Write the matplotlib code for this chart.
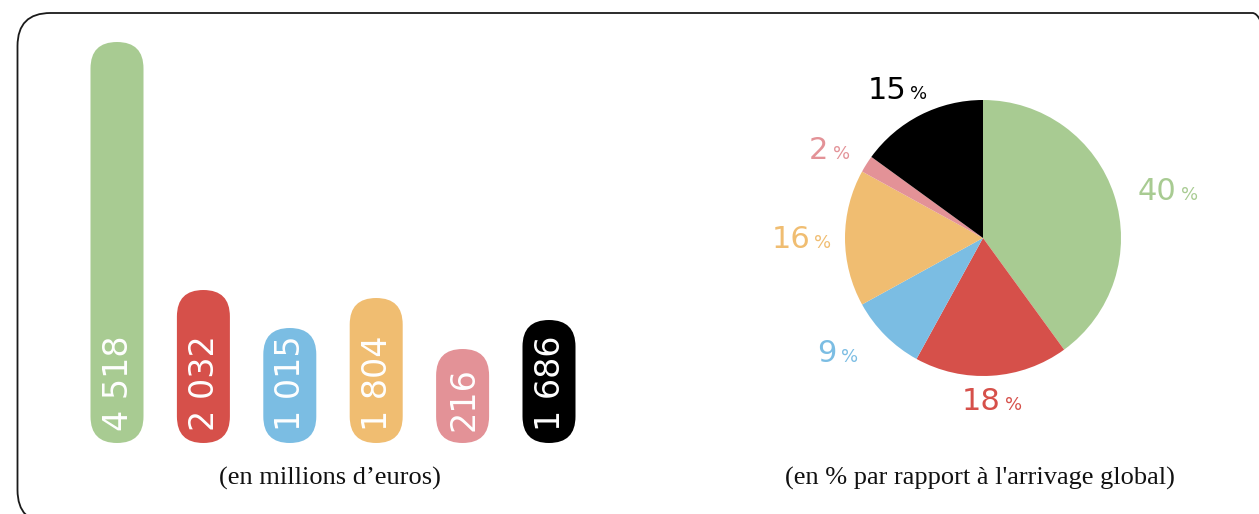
# Arrivages : montants (barres arrondies) et parts en % (camembert)
import matplotlib
matplotlib.use("Agg")
import numpy as np
import matplotlib.pyplot as plt
from matplotlib.patches import FancyBboxPatch

# Données
montants = [4518, 2032, 1015, 1804, 216, 1686]          # en millions d'euros
etiquettes_montants = ["4 518", "2 032", "1 015", "1 804", "216", "1 686"]
# hauteur visuelle des barres (non proportionnelle aux montants sur l'original)
hauteurs_barres = [401, 153, 115, 145, 94, 123]
parts = [40, 18, 9, 16, 2, 15]                           # en %
couleurs = ["#a8cb92", "#d6504a", "#7bbde3", "#f0bd71", "#e39297", "#000000"]

W, H = 1259, 514
fig = plt.figure(figsize=(W / 100, H / 100), dpi=100)

# Cadre arrondi (repère en pixels, origine en bas)
ax_fond = fig.add_axes([0, 0, 1, 1])
ax_fond.set_xlim(0, W)
ax_fond.set_ylim(0, H)
ax_fond.axis("off")
cadre = FancyBboxPatch((17.5, H - 523), 1268, 510, boxstyle="round,pad=0,rounding_size=33",
                       fill=False, edgecolor="#1a1a1a", linewidth=1.3, clip_on=False)
ax_fond.add_patch(cadre)

# Barres arrondies : axes en unités "pixels" pour garder les arrondis circulaires
unite = 86.4
x0, y_bas, y_haut = 117 - unite / 2, 443, 30
ax_b = fig.add_axes([x0 / W, 1 - y_bas / H, 6 * unite / W, (y_bas - y_haut) / H])
ax_b.set_xlim(-unite / 2, 5.5 * unite)
ax_b.set_ylim(0, y_bas - y_haut)
ax_b.axis("off")

largeur = 53
for i, (h, lab, c) in enumerate(zip(hauteurs_barres, etiquettes_montants, couleurs)):
    xc = i * unite
    barre = FancyBboxPatch((xc - largeur / 2, 0), largeur, h,
                           boxstyle="round,pad=0,rounding_size=%.1f" % (largeur / 2),
                           facecolor=c, edgecolor="none")
    ax_b.add_patch(barre)
    ax_b.text(xc + 1, 12, lab, rotation=90, ha="center", va="bottom",
              color="white", fontsize=24, family="DejaVu Sans")

fig.text(330 / W, 1 - 478 / H, "(en millions d’euros)", ha="center", va="center",
         fontsize=19, family="Liberation Serif", color="#111111")

# Camembert
cx, cy, r = 983, 238, 138
cote = 2 * r * 1.6
ax_p = fig.add_axes([(cx - cote / 2) / W, 1 - (cy + cote / 2) / H, cote / W, cote / H])
wedges, _ = ax_p.pie(parts, colors=couleurs, startangle=90, counterclock=False,
                     wedgeprops=dict(linewidth=0))
ax_p.set_xlim(-1.6, 1.6)
ax_p.set_ylim(-1.6, 1.6)
ax_p.axis("off")

# placement des étiquettes : distance au centre et petit décalage angulaire
distances = [1.38, 1.17, 1.34, 1.32, 1.29, 1.25]
decalages = [-3.4, -0.6, -7, 0, 2.4, 3]
px = 1 / r  # un pixel en unités du camembert
for w, p, c, d, da in zip(wedges, parts, couleurs, distances, decalages):
    a = np.deg2rad((w.theta1 + w.theta2) / 2 + da)
    tx, ty = d * np.cos(a), d * np.sin(a)
    t = ax_p.text(tx - 10 * px, ty - 2 * px, str(p), ha="center", va="center",
                  color=c, fontsize=22, family="DejaVu Sans")
    ax_p.annotate("%", xy=(1, 0), xycoords=t, xytext=(3, 1.5), textcoords="offset points",
                  ha="left", va="bottom", color=c, fontsize=13, family="DejaVu Sans")

fig.text(980 / W, 1 - 478 / H, "(en % par rapport à l'arrivage global)", ha="center",
         va="center", fontsize=19, family="Liberation Serif", color="#111111")

fig.savefig("out.png", dpi=100, facecolor="white")
